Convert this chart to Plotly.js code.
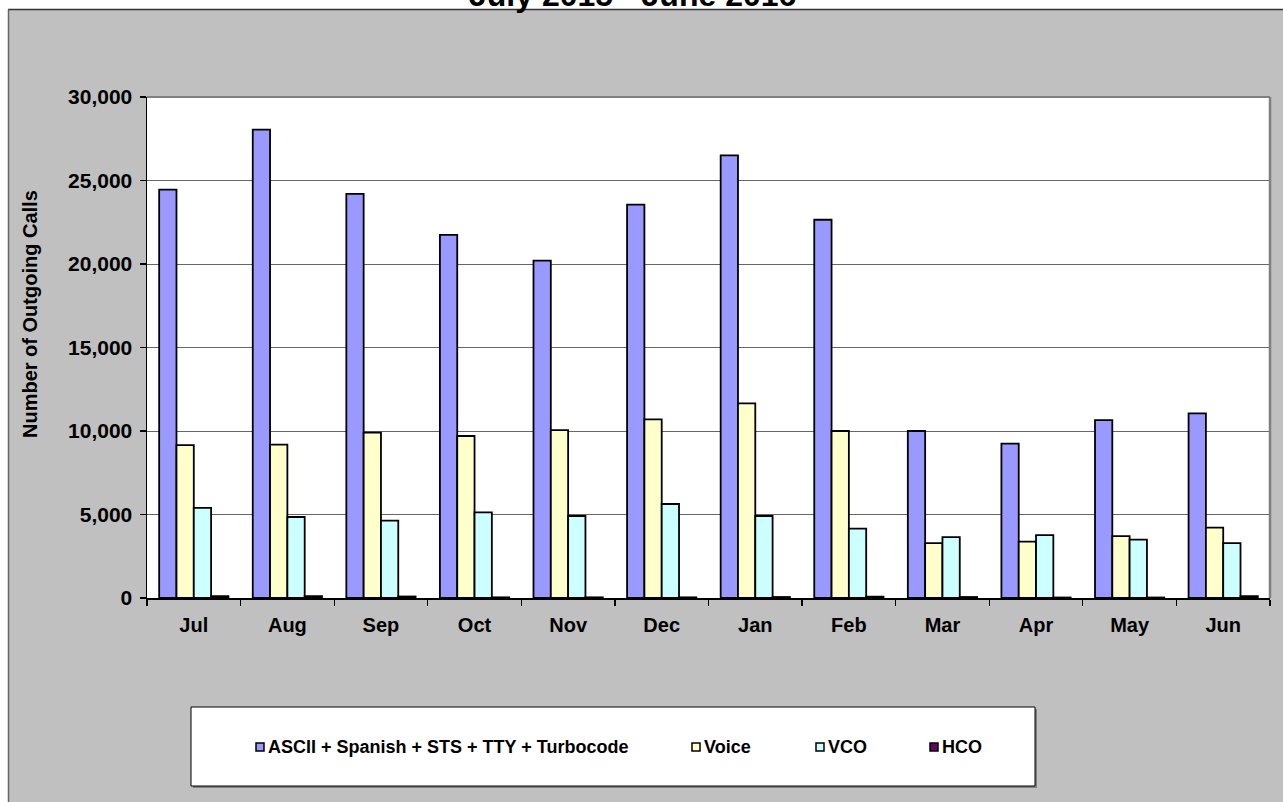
<!DOCTYPE html>
<html>
<head>
<meta charset="utf-8">
<script src="https://cdn.plot.ly/plotly-3.0.1.min.js"></script>
<style>html,body{margin:0;padding:0;background:#fff;}#chart{width:1283px;height:802px;}</style>
</head>
<body>
<div id="chart"></div>
<script>
// ---- data ----
const months = ['Jul','Aug','Sep','Oct','Nov','Dec','Jan','Feb','Mar','Apr','May','Jun'];
const seriesNames = ['ASCII + Spanish + STS + TTY + Turbocode','Voice','VCO','HCO'];
const asciiCalls = [24450, 28050, 24200, 21750, 20200, 23550, 26500, 22650, 10000, 9250, 10650, 11050];
const voiceCalls = [9150, 9180, 9900, 9700, 10050, 10700, 11650, 10000, 3280, 3380, 3710, 4220];
const vcoCalls   = [5400, 4850, 4630, 5130, 4910, 5630, 4910, 4150, 3650, 3770, 3490, 3290];
const hcoCalls   = [110, 110, 90, 40, 40, 40, 60, 80, 60, 30, 30, 110];
const yTicks = [0, 5000, 10000, 15000, 20000, 25000, 30000];
const chartTitle = 'July 2015 - June 2016';
const yTitle = 'Number of Outgoing Calls';

// ---- styling ----
const colors = ['#9999FF','#FFFFCC','#CCFFFF','#660066'];
const FONT = 'Arial, "Liberation Sans", sans-serif';
const L=147, R=1270, T=97, B=598, W=1283, H=802;
const px = x => (x-L)/(R-L);
const py = y => (B-y)/(B-T);

const seriesValues = [asciiCalls, voiceCalls, vcoCalls, hcoCalls];
const traces = seriesValues.map((vals,i)=>({
  type:'bar', name:seriesNames[i], x:months, y:vals,
  marker:{color:colors[i], line:{color:'#000', width:1.8}},
  showlegend:false, hoverinfo:'x+y+name'
}));

const shapes = [
  // white strips (top & left) outside the grey chart area
  {type:'rect', xref:'paper', yref:'paper', x0:px(-10), x1:px(W+10), y0:py(9.5), y1:py(-10), fillcolor:'#fff', line:{width:0}},
  {type:'rect', xref:'paper', yref:'paper', x0:px(-10), x1:px(8), y0:py(H+10), y1:py(-10), fillcolor:'#fff', line:{width:0}},
  {type:'line', xref:'paper', yref:'paper', x0:px(8), x1:px(W+10), y0:py(9.5), y1:py(9.5), line:{color:'#333', width:1.5}},
  {type:'line', xref:'paper', yref:'paper', x0:px(8.5), x1:px(8.5), y0:py(9.5), y1:py(H+10), line:{color:'#666', width:1.5}},
  // plot frame top & right
  {type:'line', xref:'paper', yref:'paper', x0:0, x1:1, y0:1, y1:1, line:{color:'#808080', width:2}},
  {type:'line', xref:'paper', yref:'paper', x0:1, x1:1, y0:0, y1:1, line:{color:'#808080', width:2.5}},
  // legend box shadow + box
  {type:'rect', xref:'paper', yref:'paper', x0:px(193), x1:px(1037), y0:py(788), y1:py(709), fillcolor:'#808080', line:{width:0}},
  {type:'rect', xref:'paper', yref:'paper', x0:px(191), x1:px(1035), y0:py(786), y1:py(707), fillcolor:'#fff', line:{color:'#000', width:1}}
];

const legendMarkerX = [256, 692, 816, 930];
const legendTextX = [266, 702, 826, 940];
const legendY = 747;
const annotations = [
  {text:'<b>'+chartTitle+'</b>', xref:'paper', yref:'paper', x:px(632), y:py(-5), xanchor:'center', yanchor:'middle', showarrow:false, font:{family:FONT, size:32, color:'#000'}},
  {text:'<b>'+yTitle+'</b>', xref:'paper', yref:'paper', x:px(30), y:py(314), xanchor:'center', yanchor:'middle', textangle:-90, showarrow:false, font:{family:FONT, size:20, color:'#000'}}
];
seriesNames.forEach((n,i)=>{
  shapes.push({type:'rect', xref:'paper', yref:'paper', x0:px(legendMarkerX[i]), x1:px(legendMarkerX[i]+8), y0:py(legendY+4), y1:py(legendY-4), fillcolor:colors[i], line:{color:'#000', width:1.5}});
  annotations.push({text:'<b>'+n+'</b>', xref:'paper', yref:'paper', x:px(legendTextX[i]), y:py(legendY), xanchor:'left', yanchor:'middle', showarrow:false, font:{family:FONT, size:18, color:'#000'}});
});

const layout = {
  width:W, height:H,
  paper_bgcolor:'#C0C0C0', plot_bgcolor:'#FFFFFF',
  margin:{l:L, r:W-R, t:T, b:H-B, pad:0, autoexpand:false},
  font:{family:FONT, color:'#000'},
  barmode:'group', bargap:0.26, bargroupgap:0,
  showlegend:false,
  xaxis:{type:'category', categoryorder:'array', categoryarray:months,
    tickson:'boundaries', ticks:'outside', ticklen:6, tickwidth:1.2, tickcolor:'#000', ticklabelstandoff:8,
    showline:true, linecolor:'#000', linewidth:1.5, showgrid:false, zeroline:false,
    tickfont:{family:FONT, size:20, color:'#000', weight:'bold'}, automargin:false},
  yaxis:{range:[0,30000], tickmode:'array', tickvals:yTicks, tickformat:',d',
    ticks:'outside', ticklen:6, tickwidth:1.2, tickcolor:'#000', ticklabelstandoff:3,
    showline:true, linecolor:'#000', linewidth:1.5, showgrid:true, gridcolor:'#666', gridwidth:1,
    zeroline:false, tickfont:{family:FONT, size:21, color:'#000', weight:'bold'}, automargin:false},
  shapes:shapes,
  annotations:annotations
};

Plotly.newPlot('chart', traces, layout, {displayModeBar:false, staticPlot:true});
</script>
</body>
</html>
